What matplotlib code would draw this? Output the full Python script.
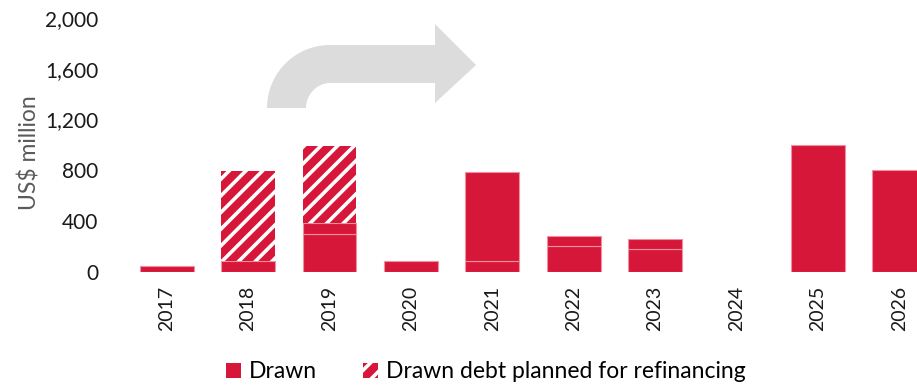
import numpy as np
import matplotlib.pyplot as plt
from matplotlib.patches import PathPatch, Patch
from matplotlib.path import Path
from matplotlib.transforms import Affine2D

plt.rcParams['font.family'] = ['Lato', 'DejaVu Sans']
plt.rcParams['hatch.linewidth'] = 2.6

# debt maturity profile, US$ million
years = ['2017', '2018', '2019', '2020', '2021', '2022', '2023', '2024', '2025', '2026']
drawn_a = [40, 80, 295, 80, 83, 200, 180, 0, 1000, 800]
drawn_b = [0, 0, 85, 0, 700, 80, 80, 0, 0, 0]
refinance = [0, 710, 610, 0, 0, 0, 0, 0, 0, 0]

red = '#d7173a'
seg_edge = '#ef8fa2'

fig = plt.figure(figsize=(9.17, 3.85), dpi=100)
ax = fig.add_axes([126 / 917, 1 - 271.5 / 385, 791 / 917, 253.5 / 385])

x = np.arange(len(years))
a = np.array(drawn_a, dtype=float)
b = np.array(drawn_b, dtype=float)
r = np.array(refinance, dtype=float)
w = 0.66

m = a > 0
ax.bar(x[m], a[m], width=w, color=red, edgecolor=seg_edge, linewidth=0.8)
m = b > 0
ax.bar(x[m], b[m], bottom=a[m], width=w, color=red, edgecolor=seg_edge, linewidth=0.8)
m = r > 0
ax.bar(x[m], r[m], bottom=(a + b)[m], width=w, color=red, edgecolor='white',
       linewidth=0, hatch='//')

ax.set_xlim(-0.5, -0.5 + 791 / 81.4)
ax.set_ylim(0, 2000)
ax.set_yticks(np.arange(0, 2001, 400))
ax.set_yticklabels([f'{v:,}' for v in range(0, 2001, 400)])
ax.set_xticks(x)
ax.set_xticklabels(years, rotation=90)
ax.tick_params(axis='y', length=0, pad=20, labelsize=15, labelcolor='#1a1a1a')
ax.tick_params(axis='x', length=0, pad=10, labelsize=14, labelcolor='#1a1a1a')
for s in ax.spines.values():
    s.set_visible(False)
ax.set_ylabel('US$ million', fontsize=16.5, color='#5a5a5a')
ax.yaxis.set_label_coords(-0.108, 0.47)

# grey curved arrow, drawn in pixel coordinates
k = 0.5523
cx, cy = 330, 108
ro, ri = 63, 24
verts = [
    (cx - ro, cy),
    (cx - ro, cy - ro * k), (cx - ro * k, cy - ro), (cx, cy - ro),
    (435, cy - ro), (435, 24), (476, 65), (435, 103), (435, 83),
    (cx, 83),
    (cx - ri * k, 83), (cx - ri, cy - ri * k), (cx - ri, cy),
    (cx - ro, cy),
]
codes = [Path.MOVETO,
         Path.CURVE4, Path.CURVE4, Path.CURVE4,
         Path.LINETO, Path.LINETO, Path.LINETO, Path.LINETO, Path.LINETO,
         Path.LINETO,
         Path.CURVE4, Path.CURVE4, Path.CURVE4,
         Path.CLOSEPOLY]
arrow = PathPatch(Path(verts, codes), facecolor='#dcdcdc', edgecolor='none',
                  transform=Affine2D().scale(1, -1).translate(0, 385), zorder=0)
fig.patches.append(arrow)

handles = [Patch(facecolor=red, edgecolor='none'),
           Patch(facecolor=red, edgecolor='white', linewidth=0, hatch='//')]
fig.legend(handles, ['Drawn', 'Drawn debt planned for refinancing'],
           loc='center', bbox_to_anchor=(0.53, 1 - 372 / 385), ncol=2, frameon=False,
           fontsize=16.5, handlelength=0.65, handleheight=0.65, handletextpad=0.35,
           columnspacing=2.0)

fig.savefig('out.png', dpi=100)
